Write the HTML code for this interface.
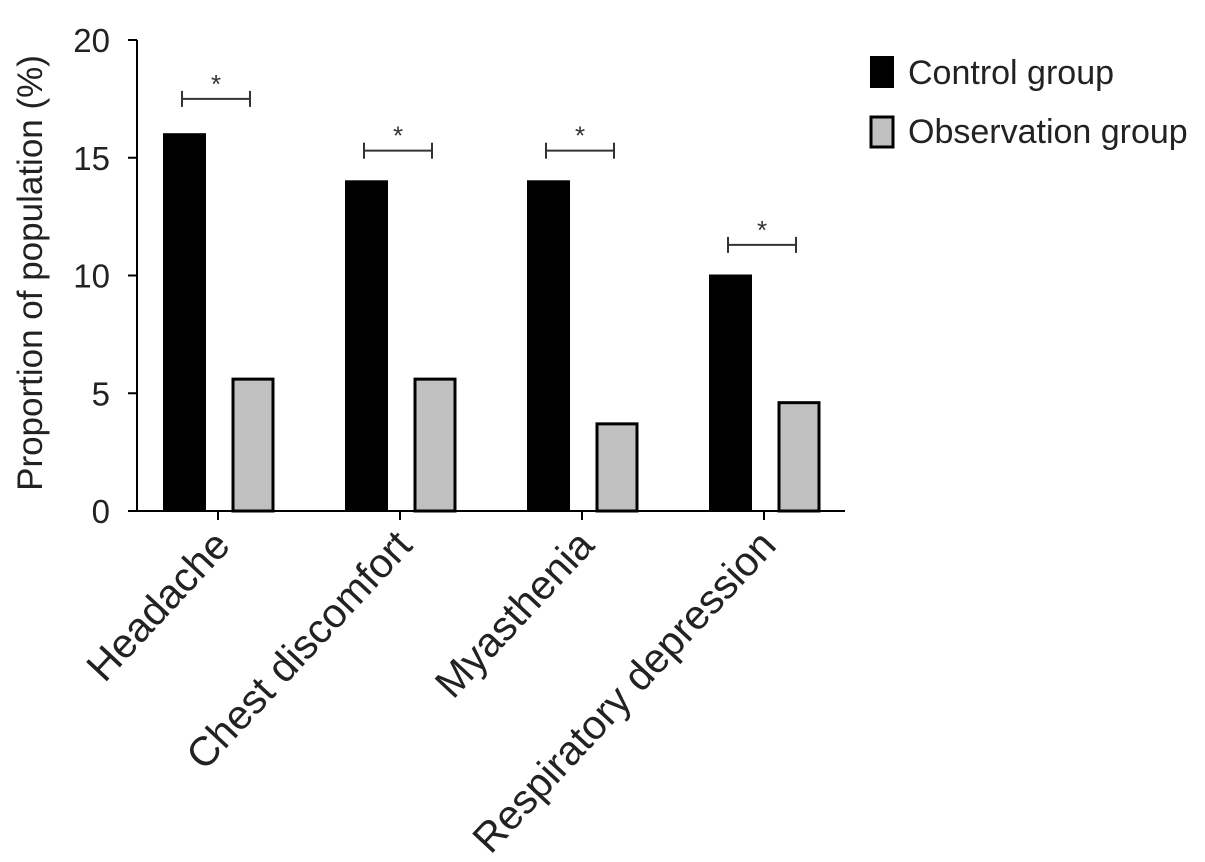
<!DOCTYPE html>
<html><head><meta charset="utf-8"><style>
body{margin:0;background:#fff;}
svg{display:block;font-family:"Liberation Sans",Arial,sans-serif;}
</style></head><body>
<svg id="chart" width="1205" height="862"></svg>
<script>
const categories=["Headache","Chest discomfort","Myasthenia","Respiratory depression"];
const controlValues=[16,14,14,10];
const observationValues=[5.6,5.6,3.7,4.6];
const yTicks=[0,5,10,15,20];
const bracketLevels=[17.5,15.3,15.3,11.3];
const NS="http://www.w3.org/2000/svg";
const svg=document.getElementById('chart');
const x0=137,x1=845,yBase=511,yTop=40,yMax=20;
const y=v=>yBase-(yBase-yTop)*v/yMax;
const step=182,firstC=218;
const xc=i=>firstC+i*step;
function el(t,a,p){const e=document.createElementNS(NS,t);for(const k in a)e.setAttribute(k,a[k]);(p||svg).appendChild(e);return e;}
let ax=el('line',{x1:x0,y1:yTop,x2:x0,y2:yBase+1,stroke:'#000','stroke-width':2});


let xa=el('line',{x1:x0,y1:yBase,x2:x1,y2:yBase,stroke:'#000','stroke-width':2});


yTicks.forEach(v=>{
  const t=el('line',{x1:x0-9,y1:y(v),x2:x0,y2:y(v),stroke:'#000','stroke-width':2});
  
  
  const l=el('text',{x:x0-27,y:y(v)+12,'text-anchor':'end','font-size':33,fill:'#222'});
  l.textContent=v;
  
  
});
const yt=el('text',{transform:'translate(42,273) rotate(-90)','text-anchor':'middle','font-size':35,fill:'#222'});
yt.textContent='Proportion of population (%)';


categories.forEach((c,i)=>{
  const cx=xc(i);
  const t=el('line',{x1:cx,y1:yBase,x2:cx,y2:yBase+9,stroke:'#000','stroke-width':2});
  
  
  const b1=el('rect',{x:cx-54,y:y(controlValues[i]),width:41,height:yBase-y(controlValues[i]),fill:'#000',stroke:'#000','stroke-width':2});
  
  
  const b2=el('rect',{x:cx+15,y:y(observationValues[i]),width:40,height:yBase-y(observationValues[i]),fill:'#c0c0c0',stroke:'#000','stroke-width':3});
  
  
  const by=y(bracketLevels[i]);
  const g=el('g',{stroke:'#333','stroke-width':2});
  
  
  el('line',{x1:cx-36,y1:by,x2:cx+32,y2:by},g);
  el('line',{x1:cx-36,y1:by-8,x2:cx-36,y2:by+8},g);
  el('line',{x1:cx+32,y1:by-8,x2:cx+32,y2:by+8},g);
  const s=el('text',{x:cx-2,y:by-6,'text-anchor':'middle','font-size':26,fill:'#333'});
  s.textContent='*';
  
  
  const l=el('text',{transform:`translate(${cx+14},${yBase+36}) rotate(-47)`,'text-anchor':'end','font-size':41,fill:'#222'});
  l.textContent=c;
  
  
});
const lg=el('g',{});


const r1=el('rect',{x:871,y:57,width:22,height:30,fill:'#000',stroke:'#000','stroke-width':2},lg);


const t1=el('text',{x:908,y:84,'font-size':34,fill:'#222'},lg);
t1.textContent='Control group';


const r2=el('rect',{x:871,y:117,width:22,height:30,fill:'#c0c0c0',stroke:'#000','stroke-width':3},lg);


const t2=el('text',{x:908,y:143,'font-size':34,fill:'#222'},lg);
t2.textContent='Observation group';


</script>
</body></html>
